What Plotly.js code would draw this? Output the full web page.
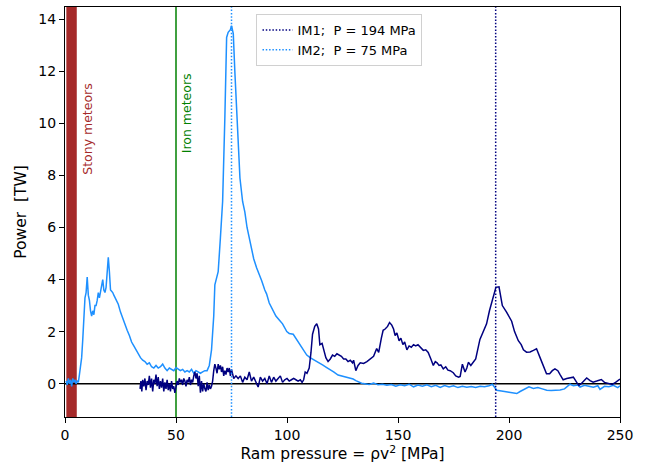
<!DOCTYPE html>
<html>
<head>
<meta charset="utf-8">
<script src="https://cdn.plot.ly/plotly-3.0.1.min.js"></script>
<style>html,body{margin:0;padding:0;background:#fff;}#chart{width:651px;height:466px;}</style>
</head>
<body>
<div id="chart"></div>
<script>
// IM2 (light blue) curve
const im2X = [0.5,1,1.5,2,2.5,3,3.5,4,4.5,5,5.5,6,6.5,7,7.5,8,8.5,9,9.5,10,10.5,11,11.5,12,12.5,13,13.5,14,14.5,15,15.5,16,16.5,17,17.5,18,18.5,19,19.5,20,20.5,21,21.5,22,23,24,25,26,27,28,29,30,31,32,33,34,35,36,37,38,39,40,41,42,43,44,45,46,47,48,49,50,51,52,53,54,55,56,57,58,59,60,61,62,63,64,65,66,67,67.5,68,69,70,71,72,72.8,73.5,74.5,75,75.8,76.5,77.3,78,78.8,80,81,82,82.6,84,85,86.3,87.5,88.6,90,90.8,92,93.8,95,96.8,98,99.9,101,102.8,104,105.9,107.3,108.9,110.4,112,113.4,114.9,116,117.9,119.4,121,123,125,127,129.8,131,133.6,135,137,139,141,143,145,147,149,151,153,155,157,159,161,163,165,167,169,171,173,175,177,179,181,183,185,187,189,191,192.5,194.5,196,198,200,202,203.5,205,207,209,211,213,215,217,219,221,223,225,227.5,229,231,232,234,236,238,240,241,243,245,247,249,250];
const im2Y = [0.1,-0.05,0.2,0.0,0.15,-0.1,0.2,0.05,0.15,0.0,0.1,0.05,0.35,0.6,1.0,1.7,2.5,3.3,3.5,4.1,3.4,3.2,2.8,2.6,2.8,2.65,3.0,3.0,3.2,3.5,3.3,3.6,3.8,4.0,3.6,3.5,3.7,4.3,4.85,4.3,3.6,3.55,3.5,3.4,3.2,3.05,2.75,2.5,2.3,2.05,1.85,1.6,1.45,1.3,1.1,1.0,0.9,0.85,0.75,0.8,0.65,0.6,0.7,0.6,0.65,0.75,0.6,0.5,0.6,0.55,0.5,0.62,0.55,0.5,0.55,0.45,0.5,0.45,0.55,0.4,0.5,0.45,0.4,0.45,0.5,0.5,0.7,1.3,2.6,3.8,4.0,4.3,5.6,7.0,10.2,13.3,13.5,13.6,13.75,13.45,12.0,10.4,9.0,7.9,7.0,6.6,6.0,5.75,5.1,4.8,4.45,4.2,3.95,3.6,3.45,3.1,2.8,2.6,2.42,2.3,2.0,1.93,1.9,1.75,1.52,1.3,1.1,1.0,0.92,0.88,0.8,0.72,0.62,0.55,0.45,0.33,0.28,0.22,0.18,0.12,0.02,0.0,-0.03,0.02,-0.04,-0.02,-0.06,-0.03,-0.1,-0.04,-0.08,-0.02,-0.12,-0.05,-0.1,-0.04,-0.12,-0.06,-0.14,-0.07,-0.13,-0.08,-0.15,-0.1,-0.14,-0.11,-0.15,-0.1,-0.12,-0.08,-0.02,-0.25,-0.28,-0.3,-0.33,-0.35,-0.38,-0.3,-0.2,-0.12,-0.18,-0.15,-0.2,-0.25,-0.26,-0.26,-0.24,-0.2,-0.02,-0.08,-0.05,-0.13,-0.06,-0.1,-0.14,-0.08,-0.22,-0.1,-0.12,-0.06,-0.15,-0.08];

// IM1 (navy) curve
const im1X = [33.8,34.2,34.6,35,35.5,36,36.5,37,37.5,38,38.5,39,39.5,40,40.5,41,41.5,42,42.5,43,43.5,44,44.5,45,45.5,46,46.5,47,47.5,48,48.5,49,49.5,50,50.5,51,51.5,52,52.5,53,53.5,54,54.5,55,55.5,56,56.5,57,57.5,58,58.5,59,59.5,60,60.5,61,61.5,62,62.5,63,63.5,64,64.5,65,65.5,66,66.5,67,67.5,68,68.5,69,69.5,70,70.5,71,71.5,72,72.5,73,73.5,74,74.5,75,75.5,76,77,78,79,80,81,82,83,84,85,86,87,88,89,90,91,92,93,94,95,96,97,98,99,100,101,102,103,104,105,106,106.8,107.5,108.2,109,110,110.8,111.5,112.5,113.4,114.2,114.8,115.8,116.5,117.5,118.5,119.5,120.5,121.5,122.5,123.5,124.5,125.5,126.5,127.5,128.5,129.5,130,131,132,133,134.5,136,137.5,139,140.4,141.3,142.5,143.3,144.2,145.3,146.2,147.2,148,148.7,149.5,150.5,151.3,152.2,153,154,155,156,157,158,159,160,161.4,162.5,163.6,164.8,165.9,166.8,167.6,168.5,169.3,170.4,171.5,172.5,173.5,174.9,176,177.3,178,179,180.2,181,181.7,182.8,184,185,186.9,188.5,189.9,191.2,192.9,194.1,195.5,196.3,197,198.9,200,201.2,202.5,204.2,205.5,206.5,207.9,209.5,211,212.4,213.9,215.5,216.9,218.3,219.5,220.7,222,223,224.4,226,227.5,229,230.5,231.5,232.5,233.5,235,236.5,237.9,239.5,241.6,243,244.6,246.5,248,250];
const im1Y = [-0.2,0.1,-0.3,0.15,-0.1,0.2,-0.25,0.1,-0.05,0.3,-0.15,0.2,-0.3,0.15,0.0,0.35,-0.1,0.25,-0.2,0.1,-0.15,0.2,-0.3,0.05,-0.2,0.15,-0.25,0.0,-0.3,0.1,-0.2,-0.1,-0.35,-0.1,0.1,-0.05,0.2,0.05,0.15,-0.05,0.2,0.1,-0.1,0.15,0.05,0.25,-0.05,0.15,0.05,0.3,0.45,0.2,0.4,-0.1,0.3,-0.35,0.1,-0.3,0.0,-0.2,-0.3,0.05,-0.25,-0.05,-0.2,-0.1,0.1,0.5,0.75,0.6,0.4,0.75,0.55,0.7,0.45,0.65,0.3,0.5,0.35,0.6,0.45,0.6,0.3,0.55,0.35,0.2,0.3,0.2,0.3,0.05,0.25,0.15,0.45,0.1,0.25,0.05,-0.13,0.25,0.1,0.2,0.0,0.3,0.05,0.25,0.1,0.2,0.3,0.05,0.15,0.2,0.1,0.15,0.2,0.15,0.1,0.15,0.05,0.15,0.45,0.4,0.6,1.2,1.9,2.2,2.3,2.1,1.5,1.55,1.3,1.0,0.85,0.95,1.1,1.05,1.15,1.1,1.05,0.95,0.95,0.85,0.9,0.8,0.9,0.5,0.7,0.8,0.78,0.85,0.95,1.05,1.35,1.2,1.75,2.05,2.1,2.2,2.35,2.25,2.1,1.85,1.95,1.65,1.75,1.5,1.6,1.3,1.45,1.4,1.5,1.45,1.5,1.4,1.28,1.3,1.2,0.95,0.7,0.85,0.8,0.7,0.72,0.57,0.65,0.52,0.5,0.42,0.3,0.25,0.28,0.75,0.45,0.6,0.82,0.7,0.85,0.95,1.7,2.05,2.3,2.8,3.3,3.7,3.72,3.4,3.0,2.75,2.6,2.4,2.0,1.65,1.5,1.3,1.21,1.22,1.28,1.34,1.02,0.7,0.38,0.38,0.5,0.57,0.5,0.35,0.15,0.2,0.24,0.25,0.05,-0.07,0.0,0.08,0.22,0.12,0.06,0.1,0.16,0.05,0.0,-0.03,0.05,0.18];

// reference markers
const pressureIM1 = 194;
const pressureIM2 = 75;
const ironPressure = 50;
const stonyRange = [0.6, 5.3];
const legendNames = ['IM1;  P = 194 MPa', 'IM2;  P = 75 MPa'];
const xTicks = [0, 50, 100, 150, 200, 250];
const yTicks = [0, 2, 4, 6, 8, 10, 12, 14];
const yRange = [-1.28, 14.47];
const xRange = [0, 250];

const font = 'DejaVu Sans, Liberation Sans, sans-serif';

const traces = [
  {x: im2X, y: im2Y, mode: 'lines', line: {color: '#1E90FF', width: 1.5}, showlegend: false, hoverinfo: 'skip'},
  {x: im1X, y: im1Y, mode: 'lines', line: {color: '#000080', width: 1.5}, showlegend: false, hoverinfo: 'skip'},
  {x: [pressureIM1, pressureIM1], y: yRange, mode: 'lines', name: legendNames[0], line: {color: '#000080', width: 1.5, dash: '1.5px,1.8px'}},
  {x: [pressureIM2, pressureIM2], y: yRange, mode: 'lines', name: legendNames[1], line: {color: '#1E90FF', width: 1.5, dash: '1.5px,1.8px'}}
];

const layout = {
  width: 651, height: 466,
  margin: {l: 65, r: 31, t: 7, b: 49},
  paper_bgcolor: '#fff', plot_bgcolor: '#fff',
  font: {family: font, color: '#000', size: 14},
  showlegend: true,
  legend: {x: 0.345, y: 0.983, xanchor: 'left', yanchor: 'top', bgcolor: 'rgba(255,255,255,0.8)',
           bordercolor: '#d0d0d0', borderwidth: 1, font: {family: font, size: 13, color: '#000'},
           tracegroupgap: 0, itemwidth: 30},
  xaxis: {range: xRange, tickvals: xTicks, ticktext: xTicks.map(String), showgrid: false, zeroline: false,
          showline: true, linecolor: '#000', linewidth: 1, mirror: true, ticks: 'outside', ticklen: 5,
          tickcolor: '#000', tickfont: {size: 14},
          title: {text: 'Ram pressure = ρv<sup>2</sup> [MPa]', font: {size: 15.5}, standoff: 6}},
  yaxis: {range: yRange, tickvals: yTicks, ticktext: yTicks.map(String), showgrid: false, zeroline: false,
          showline: true, linecolor: '#000', linewidth: 1, mirror: true, ticks: 'outside', ticklen: 5,
          tickcolor: '#000', tickfont: {size: 14},
          title: {text: 'Power  [TW]', font: {size: 15.5}, standoff: 7}},
  shapes: [
    {type: 'rect', xref: 'x', yref: 'paper', x0: stonyRange[0], x1: stonyRange[1], y0: 0, y1: 1,
     fillcolor: '#A52A2A', line: {width: 0}, layer: 'below'},
    {type: 'line', xref: 'x', yref: 'paper', x0: ironPressure, x1: ironPressure, y0: 0, y1: 1,
     line: {color: '#008000', width: 1.5}, layer: 'below'},
    {type: 'line', xref: 'paper', yref: 'y', x0: 0, x1: 1, y0: 0, y1: 0,
     line: {color: '#000', width: 1.5}, layer: 'below'}
  ],
  annotations: [
    {x: 10, y: 9.8, xref: 'x', yref: 'y', text: 'Stony meteors', textangle: -90, showarrow: false,
     font: {family: font, size: 12.5, color: '#A52A2A'}},
    {x: 55.1, y: 10.4, xref: 'x', yref: 'y', text: 'Iron meteors', textangle: -90, showarrow: false,
     font: {family: font, size: 12.5, color: '#008000'}}
  ]
};

Plotly.newPlot('chart', traces, layout, {staticPlot: true, displayModeBar: false});
</script>
</body>
</html>
